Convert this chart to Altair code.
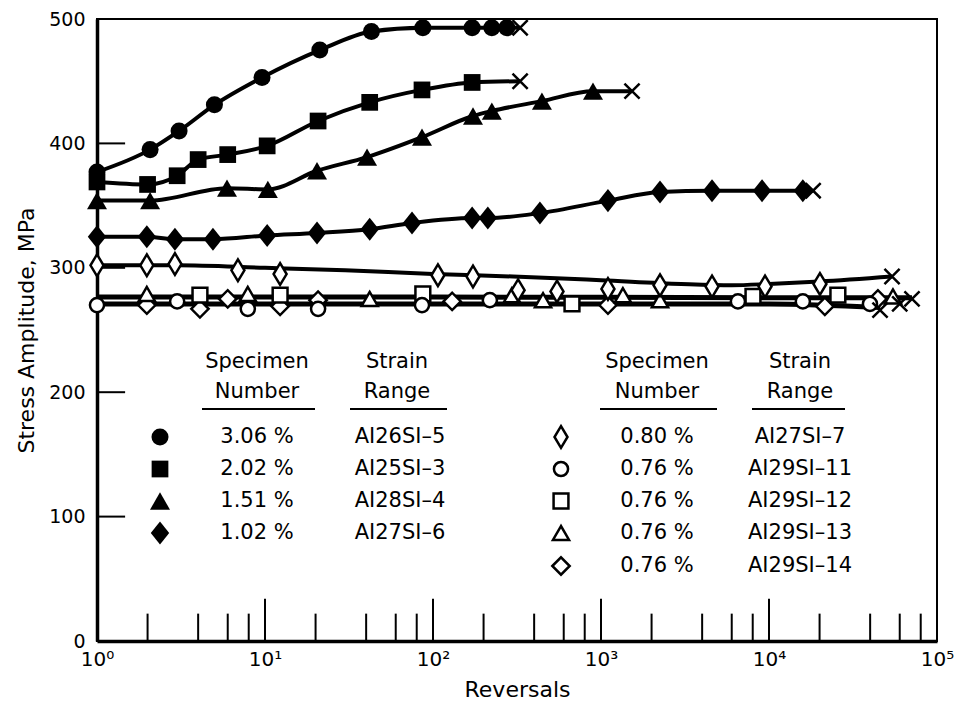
import altair as alt
import pandas as pd

FONT = "DejaVu Sans"

# ---------------- values ----------------
# filled markers: 3.06 %, 2.02 %, 1.51 %, 1.02 %
c306_x = [1, 2.07, 3.08, 5.0, 9.6, 21.2, 43, 87, 171, 224, 275]
c306_y = [377, 395, 410, 431, 453, 475, 490, 493, 493, 493, 493]
c306_end = [330, 493]

s202_x = [1, 2.0, 3.0, 4.0, 6.0, 10.3, 20.7, 42, 86, 171]
s202_y = [369, 367, 374, 387, 391, 398, 418, 433, 443, 449]
s202_end = [330, 450]

t151_x = [1, 2.07, 5.94, 10.4, 20.4, 40.5, 86, 173, 224, 445, 896]
t151_y = [354, 354, 364, 363, 378, 389, 405, 422, 426, 434, 442]
t151_end = [1530, 442]

d102_x = [1, 1.98, 2.91, 4.9, 10.3, 20.4, 42, 75, 171, 212, 433, 1100, 2245, 4580, 9090, 15900]
d102_y = [325, 325, 323, 323, 326, 328, 331, 336, 340, 340, 344, 354, 361, 362, 362, 362]
d102_end = [18300, 362]

# open markers: 0.80 % and 0.76 % specimens
n080_x = [1, 1.98, 2.91, 6.9, 12.3, 107, 173, 321, 547, 1100, 2245, 4580, 9470, 20100]
n080_y = [302, 302, 303, 298, 295, 294, 293, 282, 281, 283, 286, 285, 285, 287]
n080_end = [54000, 293]
n080_fit_x = [1, 3, 10, 30, 100, 300, 1000, 3000, 6000, 10000, 20000, 54000]
n080_fit_y = [302, 302, 300, 298, 295, 293, 290, 287, 286, 287, 289, 293]

o11_x = [1, 3.0, 7.9, 20.7, 86, 218, 6530, 15900, 39900]
o11_y = [270, 273, 267, 267, 270, 274, 273, 273, 271]
o11_end = [45800, 266]

o12_x = [4.1, 12.3, 87, 672, 8030, 25700]
o12_y = [278, 278, 279, 271, 277, 278]
o12_end = [60000, 271]

o13_x = [1.98, 7.9, 42, 295, 452, 1350, 2245, 54700]
o13_y = [279, 279, 275, 278, 274, 278, 274, 277]
o13_end = [71000, 275]

o14_x = [1.98, 4.1, 6.0, 12.3, 20.7, 130, 1100, 21500, 44500]
o14_y = [270, 267, 275, 269, 274, 273, 270, 269, 275]

band_hi_x = [1, 100, 10000, 71000]
band_hi_y = [276.5, 276.5, 276, 276]
band_lo_x = [1, 100, 10000, 46000]
band_lo_y = [271, 271, 271, 268]

# legend texts
left_pct = ["3.06 %", "2.02 %", "1.51 %", "1.02 %"]
left_id = ["AI26SI–5", "AI25SI–3", "AI28SI–4", "AI27SI–6"]
right_pct = ["0.80 %", "0.76 %", "0.76 %", "0.76 %", "0.76 %"]
right_id = ["AI27SI–7", "AI29SI–11", "AI29SI–12", "AI29SI–13", "AI29SI–14"]

# tick positions
major_ticks = [10, 100, 1000, 10000]
minor_ticks = [m * d for d in [1, 10, 100, 1000, 10000] for m in [2, 4, 6, 8]]
y_ticks = [100, 200, 300, 400]

# ---------------- layout / styles ----------------
PLOT_W, PLOT_H = 840, 622
PAD = {"left": 89, "top": 11, "right": 26, "bottom": 66}

NARROW = "M0,-1L0.6,0L0,1L-0.6,0Z"
FDIAM = "M0,-1L0.8,0L0,1L-0.8,0Z"
XMARK = "M-1,-1L1,1M-1,1L1,-1"

styles = {
    "c306": dict(shape="circle", size=290, fill="black", sw=0),
    "s202": dict(shape="square", size=280, fill="black", sw=0),
    "t151": dict(shape="triangle-up", size=400, fill="black", sw=0),
    "d102": dict(shape=FDIAM, size=530, fill="black", sw=0),
    "n080": dict(shape=NARROW, size=470, fill="white", sw=2.5),
    "o11": dict(shape="circle", size=200, fill="white", sw=2.5),
    "o12": dict(shape="square", size=220, fill="white", sw=2.5),
    "o13": dict(shape="triangle-up", size=260, fill="white", sw=2.5),
    "o14": dict(shape="diamond", size=300, fill="white", sw=2.5),
}

x_axis = alt.Axis(
    values=[1, 10, 100, 1000, 10000, 100000],
    labelExpr="'10' + ['⁰','¹','²','³','⁴','⁵'][round(log(datum.value)/LN10)]",
    labelFlush=False, labelFontSize=20, labelPadding=8,
    title="Reversals", titleFontSize=22, titleFontWeight="normal", titlePadding=10,
)
y_axis = alt.Axis(
    values=[0, 100, 200, 300, 400, 500], labelFontSize=19, labelPadding=12,
    title="Stress Amplitude, MPa", titleFontSize=22, titleFontWeight="normal",
    titlePadding=10,
)
XS = alt.Scale(type="log", domain=[1, 100000])
YS = alt.Scale(domain=[0, 500])


def X(f="x"):
    return alt.X(f"{f}:Q", scale=XS, axis=x_axis)


def Y(f="y"):
    return alt.Y(f"{f}:Q", scale=YS, axis=y_axis)


def line(xs, ys, width=4):
    df = pd.DataFrame({"x": xs, "y": ys})
    return alt.Chart(df).mark_line(color="black", strokeWidth=width,
                                   interpolate="monotone").encode(X(), Y())


def points(xs, ys, key):
    st = styles[key]
    df = pd.DataFrame({"x": xs, "y": ys})
    return alt.Chart(df).mark_point(shape=st["shape"], size=st["size"], filled=True,
                                    fill=st["fill"], stroke="black",
                                    strokeWidth=st["sw"], opacity=1).encode(X(), Y())


def ends(pts):
    df = pd.DataFrame({"x": [p[0] for p in pts], "y": [p[1] for p in pts]})
    return alt.Chart(df).mark_point(shape=XMARK, size=230, filled=False, stroke="black",
                                    strokeWidth=2.5, opacity=1).encode(X(), Y())


layers = []
# inward ticks
tick_df = pd.DataFrame({"x": major_ticks + minor_ticks,
                        "y": [0] * (len(major_ticks) + len(minor_ticks)),
                        "y2": [34] * len(major_ticks) + [22] * len(minor_ticks)})
layers.append(alt.Chart(tick_df).mark_rule(color="black", strokeWidth=2).encode(
    X(), Y(), y2="y2:Q"))
yt_df = pd.DataFrame({"x": [1] * len(y_ticks), "x2": [1.47] * len(y_ticks), "y": y_ticks})
layers.append(alt.Chart(yt_df).mark_rule(color="black", strokeWidth=2).encode(
    X(), x2="x2:Q", y=Y()))

# curves
layers.append(line(c306_x + [c306_end[0]], c306_y + [c306_end[1]]))
layers.append(line(s202_x + [s202_end[0]], s202_y + [s202_end[1]]))
layers.append(line(t151_x + [t151_end[0]], t151_y + [t151_end[1]]))
layers.append(line(d102_x + [d102_end[0]], d102_y + [d102_end[1]]))
layers.append(line(n080_fit_x, n080_fit_y))
layers.append(line(band_hi_x, band_hi_y, 5))
layers.append(line(band_lo_x, band_lo_y, 5))

# markers
layers.append(points(c306_x, c306_y, "c306"))
layers.append(points(s202_x, s202_y, "s202"))
layers.append(points(t151_x, t151_y, "t151"))
layers.append(points(d102_x, d102_y, "d102"))
layers.append(points(o14_x, o14_y, "o14"))
layers.append(points(o13_x, o13_y, "o13"))
layers.append(points(o12_x, o12_y, "o12"))
layers.append(points(o11_x, o11_y, "o11"))
layers.append(points(n080_x, n080_y, "n080"))
layers.append(ends([c306_end, s202_end, t151_end, d102_end, n080_end,
                    o11_end, o12_end, o13_end]))

# ---------------- legend (layout in page pixels -> data space) ----------------
X0 = 8 + PAD["left"]
YB = 8 + PAD["top"] + PLOT_H


def px2x(px):
    return 10 ** (5 * (px - X0) / PLOT_W)


def py2y(py):
    return (YB - py) * 500.0 / PLOT_H


rows_py = [437, 469, 501, 533, 566]
txt = []
for cx_pct, cx_id in [(257, 397), (657, 800)]:
    txt += [(px2x(cx_pct), py2y(362), "Specimen"), (px2x(cx_pct), py2y(392), "Number"),
            (px2x(cx_id), py2y(362), "Strain"), (px2x(cx_id), py2y(392), "Range")]
for i, (p, s) in enumerate(zip(left_pct, left_id)):
    txt += [(px2x(257), py2y(rows_py[i]), p), (px2x(400), py2y(rows_py[i]), s)]
for i, (p, s) in enumerate(zip(right_pct, right_id)):
    txt += [(px2x(657), py2y(rows_py[i]), p), (px2x(800), py2y(rows_py[i]), s)]
txt_df = pd.DataFrame(txt, columns=["x", "y", "t"])
layers.append(alt.Chart(txt_df).mark_text(font=FONT, fontSize=21, color="black",
                                          align="center", baseline="middle").encode(
    X(), Y(), text="t:N"))

ul_df = pd.DataFrame({"x": [px2x(202), px2x(350), px2x(600), px2x(752)],
                      "x2": [px2x(315), px2x(447), px2x(717), px2x(845)],
                      "y": [py2y(409)] * 4})
layers.append(alt.Chart(ul_df).mark_rule(color="black", strokeWidth=2).encode(
    X(), x2="x2:Q", y=Y()))

left_keys = ["c306", "s202", "t151", "d102"]
right_keys = ["n080", "o11", "o12", "o13", "o14"]
for i, k in enumerate(left_keys):
    layers.append(points([px2x(160)], [py2y(rows_py[i])], k))
for i, k in enumerate(right_keys):
    layers.append(points([px2x(561)], [py2y(rows_py[i])], k))

chart = alt.layer(*layers).properties(
    width=PLOT_W, height=PLOT_H,
    autosize=alt.AutoSizeParams(type="none"),
    padding=PAD,
).configure_view(stroke="black", strokeWidth=2).configure_axis(
    grid=False, ticks=False, domainColor="black", domainWidth=3.5,
    labelColor="black", titleColor="black", labelFont=FONT, titleFont=FONT,
)

chart.save("out.html", embed_options={"renderer": "svg", "actions": False})
